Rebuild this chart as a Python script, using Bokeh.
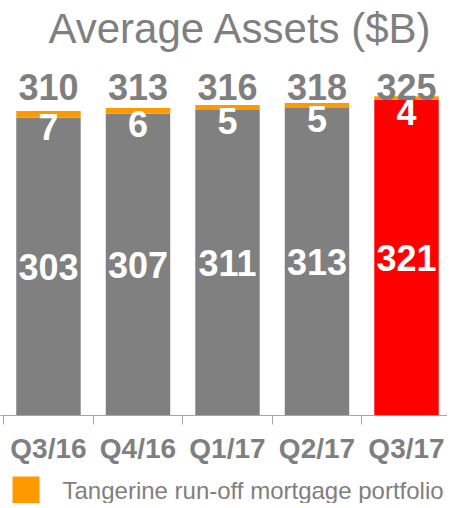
from bokeh.plotting import figure
from bokeh.layouts import column
from bokeh.models import Range1d, FixedTicker
from bokeh.core.properties import value
from bokeh.embed import file_html
from bokeh.resources import INLINE

# ---- data ----
categories = ["Q3/16", "Q4/16", "Q1/17", "Q2/17", "Q3/17"]
core_assets = [303, 307, 311, 313, 321]
runoff_mortgage = [7, 6, 5, 5, 4]
total_assets = [310, 313, 316, 318, 325]
highlight = [False, False, False, False, True]
legend_label = "Tangerine run-off mortgage portfolio"
title_text = "Average Assets ($B)"

GRAY = "#808080"
TEXT_GRAY = "#7f7f7f"
ORANGE = "#FF9900"
RED = "#FF0000"
FONT = "Liberation Sans"

xs = list(range(len(categories)))
bar_colors = [RED if h else GRAY for h in highlight]
tops = [c + r for c, r in zip(core_assets, runoff_mortgage)]

W = 447
FRAME_H = 361
PX_PER_UNIT = 0.9825

p = figure(frame_width=W, frame_height=FRAME_H,
           x_range=Range1d(-0.536, 4.458),
           y_range=Range1d(0, FRAME_H / PX_PER_UNIT),
           output_backend="svg", toolbar_location=None,
           y_axis_location=None, min_border=0,
           outline_line_color=None, title=title_text)
p.grid.visible = False

p.title.text_font = FONT
p.title.text_font_size = "42px"
p.title.text_font_style = "normal"
p.title.text_color = TEXT_GRAY
p.title.align = "left"
p.title.offset = 48
p.title.standoff = 5

BAR_W = 0.72
p.vbar(x=xs, bottom=0, top=core_assets, width=BAR_W, fill_color=bar_colors,
       line_color=None)
p.vbar(x=xs, bottom=core_assets, top=tops, width=BAR_W,
       fill_color=ORANGE, line_color=None)

label_kw = dict(text_align="center", text_baseline="middle",
                text_font=value(FONT), text_font_style="bold",
                text_font_size="36px")
# labels inside the main segment
p.text(x=xs, y=[c / 2 for c in core_assets], text=[str(c) for c in core_assets],
       text_color="white", **label_kw)
# labels for the run-off segment
p.text(x=xs, y=tops, text=[str(r) for r in runoff_mortgage],
       text_color="white", y_offset=16, **label_kw)
# totals
p.text(x=xs, y=[334] * len(xs), text=[str(t) for t in total_assets],
       text_color=TEXT_GRAY, **label_kw)

ax = p.xaxis[0]
ax.ticker = FixedTicker(ticks=xs, minor_ticks=[i - 0.5 for i in xs] + [len(xs) - 0.5])
ax.major_label_overrides = {i: c for i, c in zip(xs, categories)}
ax.major_tick_line_color = None
ax.major_tick_out = 0
ax.major_tick_in = 0
ax.minor_tick_out = 9
ax.minor_tick_in = 0
ax.minor_tick_line_color = "#A6A6A6"
ax.axis_line_color = "#A6A6A6"
ax.major_label_text_font = FONT
ax.major_label_text_font_style = "bold"
ax.major_label_text_font_size = "28px"
ax.major_label_text_color = TEXT_GRAY
ax.major_label_standoff = 8

# ---- legend strip (pixel coordinates) ----
LH = 37
KEY = 27
lp = figure(width=W, height=LH, x_range=Range1d(0, W), y_range=Range1d(0, LH),
            output_backend="svg", toolbar_location=None,
            x_axis_location=None, y_axis_location=None, min_border=0,
            outline_line_color=None)
lp.grid.visible = False
lp.rect(x=[12 + KEY / 2], y=[KEY / 2], width=KEY, height=KEY,
        fill_color=ORANGE, line_color=None)
lp.text(x=[62], y=[KEY / 2], text=[legend_label], text_align="left",
        text_baseline="middle", text_color=TEXT_GRAY,
        text_font=value(FONT), text_font_size="24px")

layout = column(p, lp, spacing=0)
open("out.html", "w").write(file_html(layout, INLINE))
